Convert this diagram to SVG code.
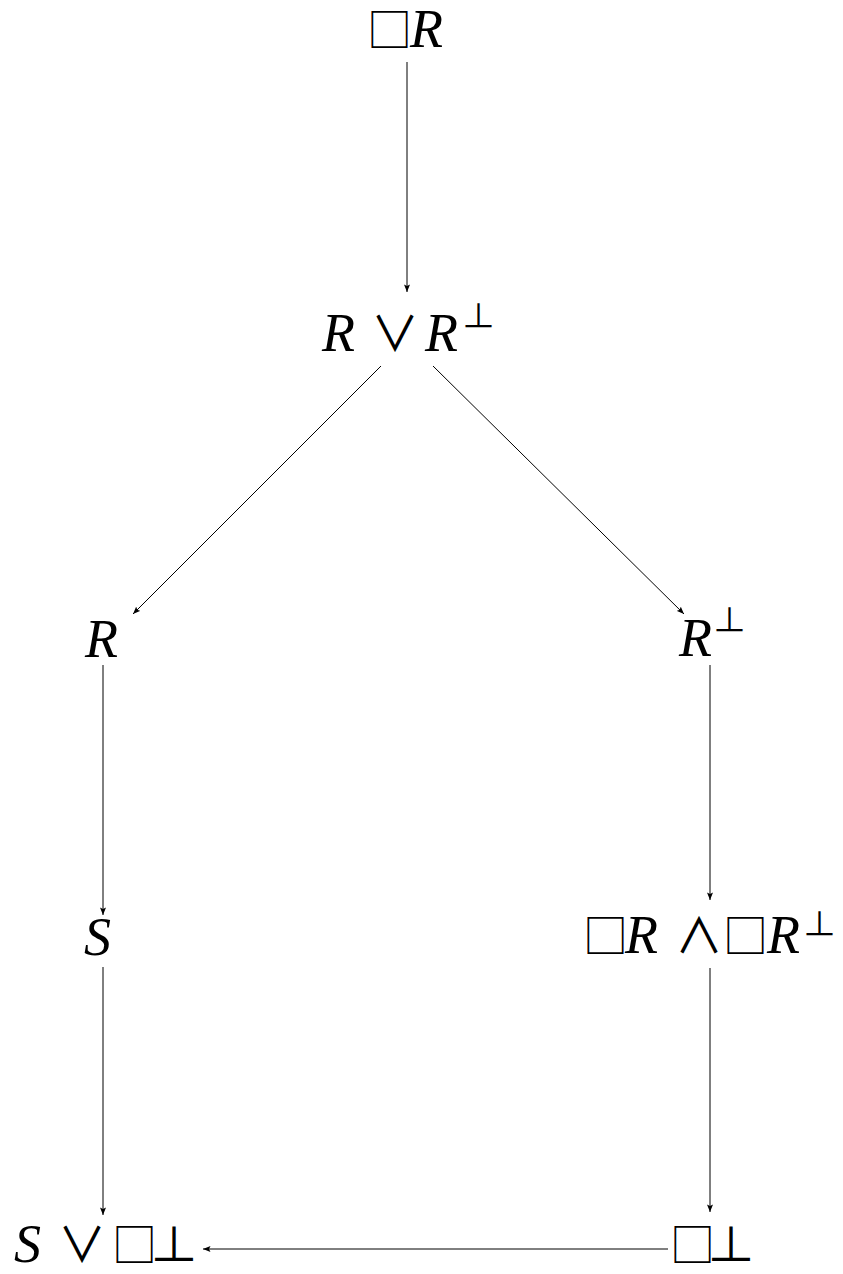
<svg xmlns="http://www.w3.org/2000/svg" width="843" height="1274" viewBox="0 0 843 1274">
<defs>
<style>
.e{stroke:#000;stroke-width:1;fill:none;marker-end:url(#a)}
text{fill:#000}
</style>
<marker id="a" viewBox="0 0 10 8" refX="10" refY="4" markerWidth="8" markerHeight="6" orient="auto" markerUnits="userSpaceOnUse"><path d="M0,0L10,4L0,8L2,4z" fill="#000"/></marker>
</defs>
<rect width="843" height="1274" fill="#fff"/>
<g id="connectors">
<path class="e" d="M407,62V292"/>
<path class="e" d="M381,366L133,614"/>
<path class="e" d="M433,366L684,614"/>
<path class="e" d="M103,665V915"/>
<path class="e" d="M710,665V900"/>
<path class="e" d="M103,967V1215"/>
<path class="e" d="M710,968V1212"/>
<path class="e" d="M668,1249H203"/>
</g>
<g id="n1"><text font-family="Liberation Serif" font-style="italic" font-size="54" y="47"><tspan font-family="Noto Sans CJK JP" font-style="normal" font-size="45" x="367">□</tspan><tspan x="410">R</tspan></text></g>
<g id="n2"><text font-family="Liberation Serif" font-style="italic" font-size="54" y="351"><tspan x="322">R</tspan><tspan font-family="Noto Sans CJK JP" font-style="normal" font-size="48" x="371">∨</tspan><tspan x="425">R</tspan><tspan font-family="Noto Sans CJK JP" font-style="normal" font-size="33" x="462" y="328">⊥</tspan></text></g>
<g id="n3"><text font-family="Liberation Serif" font-style="italic" font-size="54" y="657"><tspan x="85">R</tspan></text></g>
<g id="n4"><text font-family="Liberation Serif" font-style="italic" font-size="54" y="656"><tspan x="679">R</tspan><tspan font-family="Noto Sans CJK JP" font-style="normal" font-size="33" x="713" y="632">⊥</tspan></text></g>
<g id="n5"><text font-family="Liberation Serif" font-style="italic" font-size="54" y="955"><tspan x="84">S</tspan></text></g>
<g id="n6"><text font-family="Liberation Serif" font-style="italic" font-size="54" y="953"><tspan font-family="Noto Sans CJK JP" font-style="normal" font-size="45" x="583">□</tspan><tspan x="625">R</tspan><tspan font-family="Noto Sans CJK JP" font-style="normal" font-size="48" x="675">∧</tspan><tspan font-family="Noto Sans CJK JP" font-style="normal" font-size="45" x="723">□</tspan><tspan x="767">R</tspan><tspan font-family="Noto Sans CJK JP" font-style="normal" font-size="33" x="803" y="936">⊥</tspan></text></g>
<g id="n7"><text font-family="Liberation Serif" font-style="italic" font-size="54" y="1262"><tspan x="14">S</tspan><tspan font-family="Noto Sans CJK JP" font-style="normal" font-size="48" x="58">∨</tspan><tspan font-family="Noto Sans CJK JP" font-style="normal" font-size="45" x="112">□</tspan><tspan font-family="Noto Sans CJK JP" font-style="normal" font-size="48" x="150">⊥</tspan></text></g>
<g id="n8"><text font-family="Liberation Serif" font-style="italic" font-size="54" y="1262"><tspan font-family="Noto Sans CJK JP" font-style="normal" font-size="45" x="670">□</tspan><tspan font-family="Noto Sans CJK JP" font-style="normal" font-size="48" x="707">⊥</tspan></text></g>
</svg>
